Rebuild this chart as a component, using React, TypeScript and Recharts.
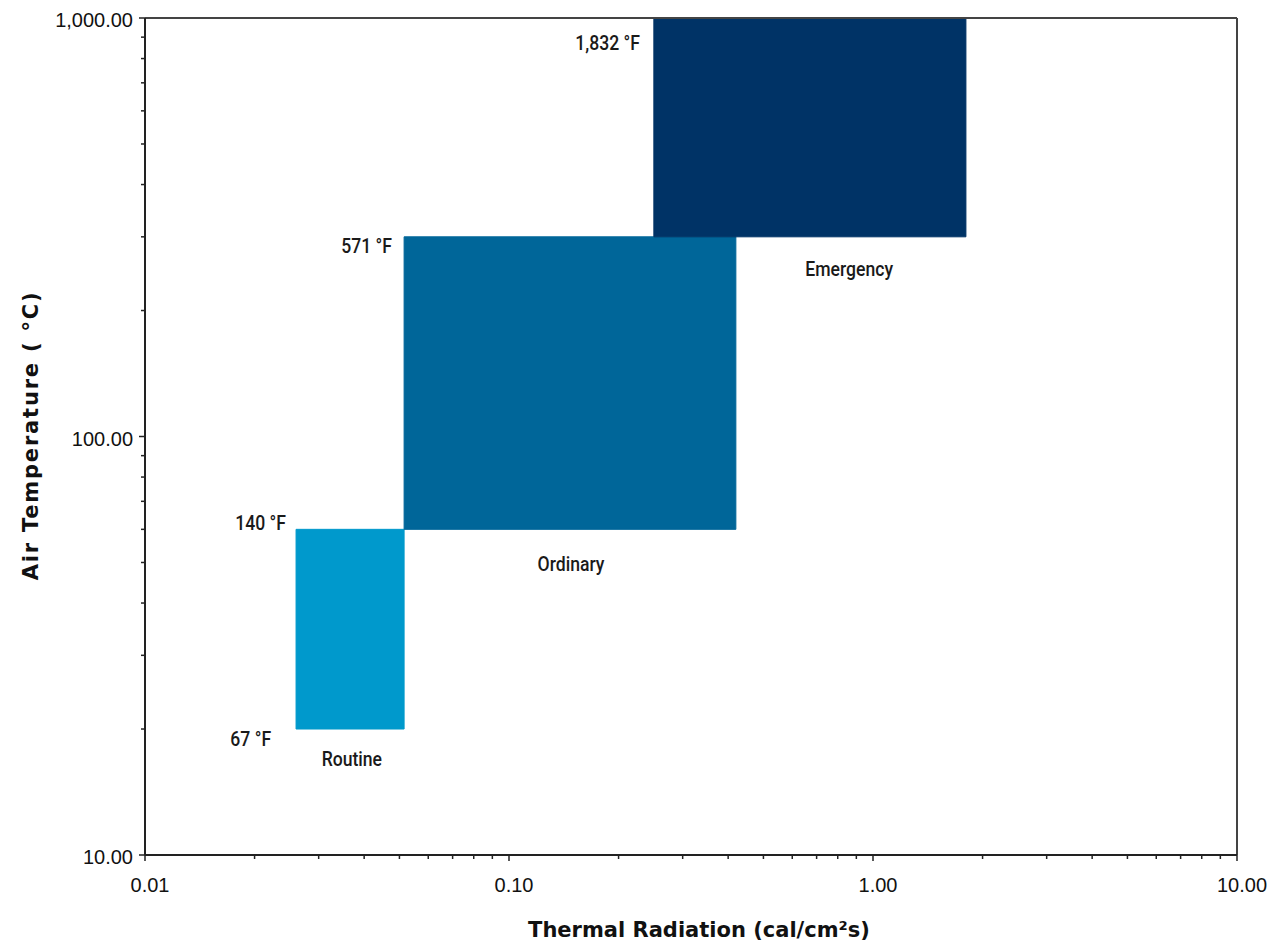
import React from 'react';
import { ComposedChart, XAxis, YAxis, ReferenceArea, ReferenceDot, ReferenceLine, Label } from 'recharts';

const zoneNames = ['Routine', 'Ordinary', 'Emergency'];
const radiationStart = [0.026, 0.0515, 0.25];
const radiationEnd = [0.0515, 0.42, 1.8];
const tempLow = [20, 60, 300];
const tempHigh = [60, 300, 1000];
const zoneColors = ['#0099CC', '#006699', '#003366'];
const zoneLabelX = [0.037, 0.148, 0.86];
const zoneLabelY = [16.9, 49.3, 251];

const fahrenheitLabels = ['67 °F', '140 °F', '571 °F', '1,832 °F'];
const fahrenheitX = [0.0222, 0.0244, 0.0477, 0.229];
const fahrenheitY = [18.9, 61.8, 285, 867];

const xMajorTicks = [0.01, 0.1, 1, 10];
const xTickLabels = ['0.01', '0.10', '1.00', '10.00'];
const xMinorTicks = [0.02, 0.03, 0.04, 0.05, 0.06, 0.07, 0.08, 0.09, 0.2, 0.3, 0.4, 0.5, 0.6, 0.7, 0.8, 0.9, 2, 3, 4, 5, 6, 7, 8, 9];
const yMajorTicks = [10, 100, 1000];
const yTickLabels = ['10.00', '100.00', '1,000.00'];
const yMinorTicks = [20, 30, 40, 50, 60, 70, 80, 90, 200, 300, 400, 500, 600, 700, 800, 900];

const allXTicks = [...xMajorTicks, ...xMinorTicks].sort((a, b) => a - b);
const allYTicks = [...yMajorTicks, ...yMinorTicks].sort((a, b) => a - b);

const tickFont = "'Liberation Sans', Arial, sans-serif";
const labelFont = "Roboto, 'Liberation Sans', sans-serif";
const titleFont = "'DejaVu Sans', Verdana, sans-serif";

const XTick = (props: any) => {
  const { x, y, payload } = props;
  const idx = xMajorTicks.indexOf(payload.value);
  const major = idx >= 0;
  return (
    <g>
      <line x1={x} x2={x} y1={y} y2={y + (major ? 6 : 4)} stroke="#222" strokeWidth={1.5} />
      {major && (
        <text x={x + 5} y={y + 30} textAnchor="middle" dominantBaseline="central" fontFamily={tickFont} fontSize={20} fill="#111">
          {xTickLabels[idx]}
        </text>
      )}
    </g>
  );
};

const YTick = (props: any) => {
  const { x, y, payload } = props;
  const idx = yMajorTicks.indexOf(payload.value);
  const major = idx >= 0;
  return (
    <g>
      <line x1={x} x2={x - (major ? 6 : 4)} y1={y} y2={y} stroke="#222" strokeWidth={1.5} />
      {major && (
        <text x={x - 12} y={y + 2} textAnchor="end" dominantBaseline="central" fontFamily={tickFont} fontSize={20} fill="#111">
          {yTickLabels[idx]}
        </text>
      )}
    </g>
  );
};

const CondensedText = ({ cx, cy, anchor, children }: any) => (
  <text
    transform={`translate(${cx}, ${cy}) scale(0.88, 1)`}
    x={0}
    y={0}
    textAnchor={anchor}
    dominantBaseline="central"
    fontFamily={labelFont}
    fontWeight={500}
    fontSize={20}
    fill="#1a1a1a"
  >
    {children}
  </text>
);

export default function App() {
  return (
    <div style={{ position: 'absolute', left: 0, top: 0, background: '#fff' }}>
      <ComposedChart width={1277} height={946} margin={{ top: 18, right: 40, bottom: 0, left: 0 }}>
        <XAxis
          type="number"
          dataKey="x"
          scale="log"
          domain={[0.01, 10]}
          ticks={allXTicks}
          interval={0}
          allowDataOverflow
          height={91}
          tickSize={0}
          tickMargin={0}
          tickLine={false}
          tick={<XTick />}
          axisLine={{ stroke: '#222', strokeWidth: 2 }}
        >
          <Label
            content={({ viewBox }: any) => (
              <text
                x={viewBox.x + viewBox.width / 2 + 8}
                y={viewBox.y + 75}
                textAnchor="middle"
                dominantBaseline="central"
                fontFamily={titleFont}
                fontWeight="bold"
                fontSize={21}
                fill="#111"
              >
                Thermal Radiation (cal/cm²s)
              </text>
            )}
          />
        </XAxis>
        <YAxis
          type="number"
          dataKey="y"
          scale="log"
          domain={[10, 1000]}
          ticks={allYTicks}
          interval={0}
          allowDataOverflow
          width={145}
          tickSize={0}
          tickMargin={0}
          tickLine={false}
          tick={<YTick />}
          axisLine={{ stroke: '#222', strokeWidth: 2 }}
        >
          <Label
            content={({ viewBox }: any) => {
              const cx = 31;
              const cy = viewBox.y + viewBox.height / 2 - 1;
              return (
                <text
                  x={cx}
                  y={cy}
                  transform={`rotate(-90, ${cx}, ${cy})`}
                  textAnchor="middle"
                  dominantBaseline="central"
                  fontFamily={titleFont}
                  fontWeight="bold"
                  fontSize={21}
                  letterSpacing={1.8}
                  fill="#111"
                >
                  Air Temperature ( °C)
                </text>
              );
            }}
          />
        </YAxis>
        <ReferenceLine y={1000} stroke="#444" strokeWidth={2} ifOverflow="visible" />
        <ReferenceLine x={10} stroke="#444" strokeWidth={2} ifOverflow="visible" />
        {zoneNames.map((name, i) => (
          <ReferenceArea
            key={name}
            x1={radiationStart[i]}
            x2={radiationEnd[i]}
            y1={tempLow[i]}
            y2={tempHigh[i]}
            fill={zoneColors[i]}
            fillOpacity={1}
            stroke={zoneColors[i]}
            strokeWidth={1}
            ifOverflow="visible"
          />
        ))}
        {zoneNames.map((name, i) => (
          <ReferenceDot
            key={'zl' + name}
            x={zoneLabelX[i]}
            y={zoneLabelY[i]}
            r={0}
            ifOverflow="visible"
            shape={(p: any) => (
              <CondensedText cx={p.cx} cy={p.cy} anchor="middle">
                {name}
              </CondensedText>
            )}
          />
        ))}
        {fahrenheitLabels.map((t, i) => (
          <ReferenceDot
            key={'fl' + t}
            x={fahrenheitX[i]}
            y={fahrenheitY[i]}
            r={0}
            ifOverflow="visible"
            shape={(p: any) => (
              <CondensedText cx={p.cx} cy={p.cy} anchor="end">
                {t}
              </CondensedText>
            )}
          />
        ))}
      </ComposedChart>
    </div>
  );
}
